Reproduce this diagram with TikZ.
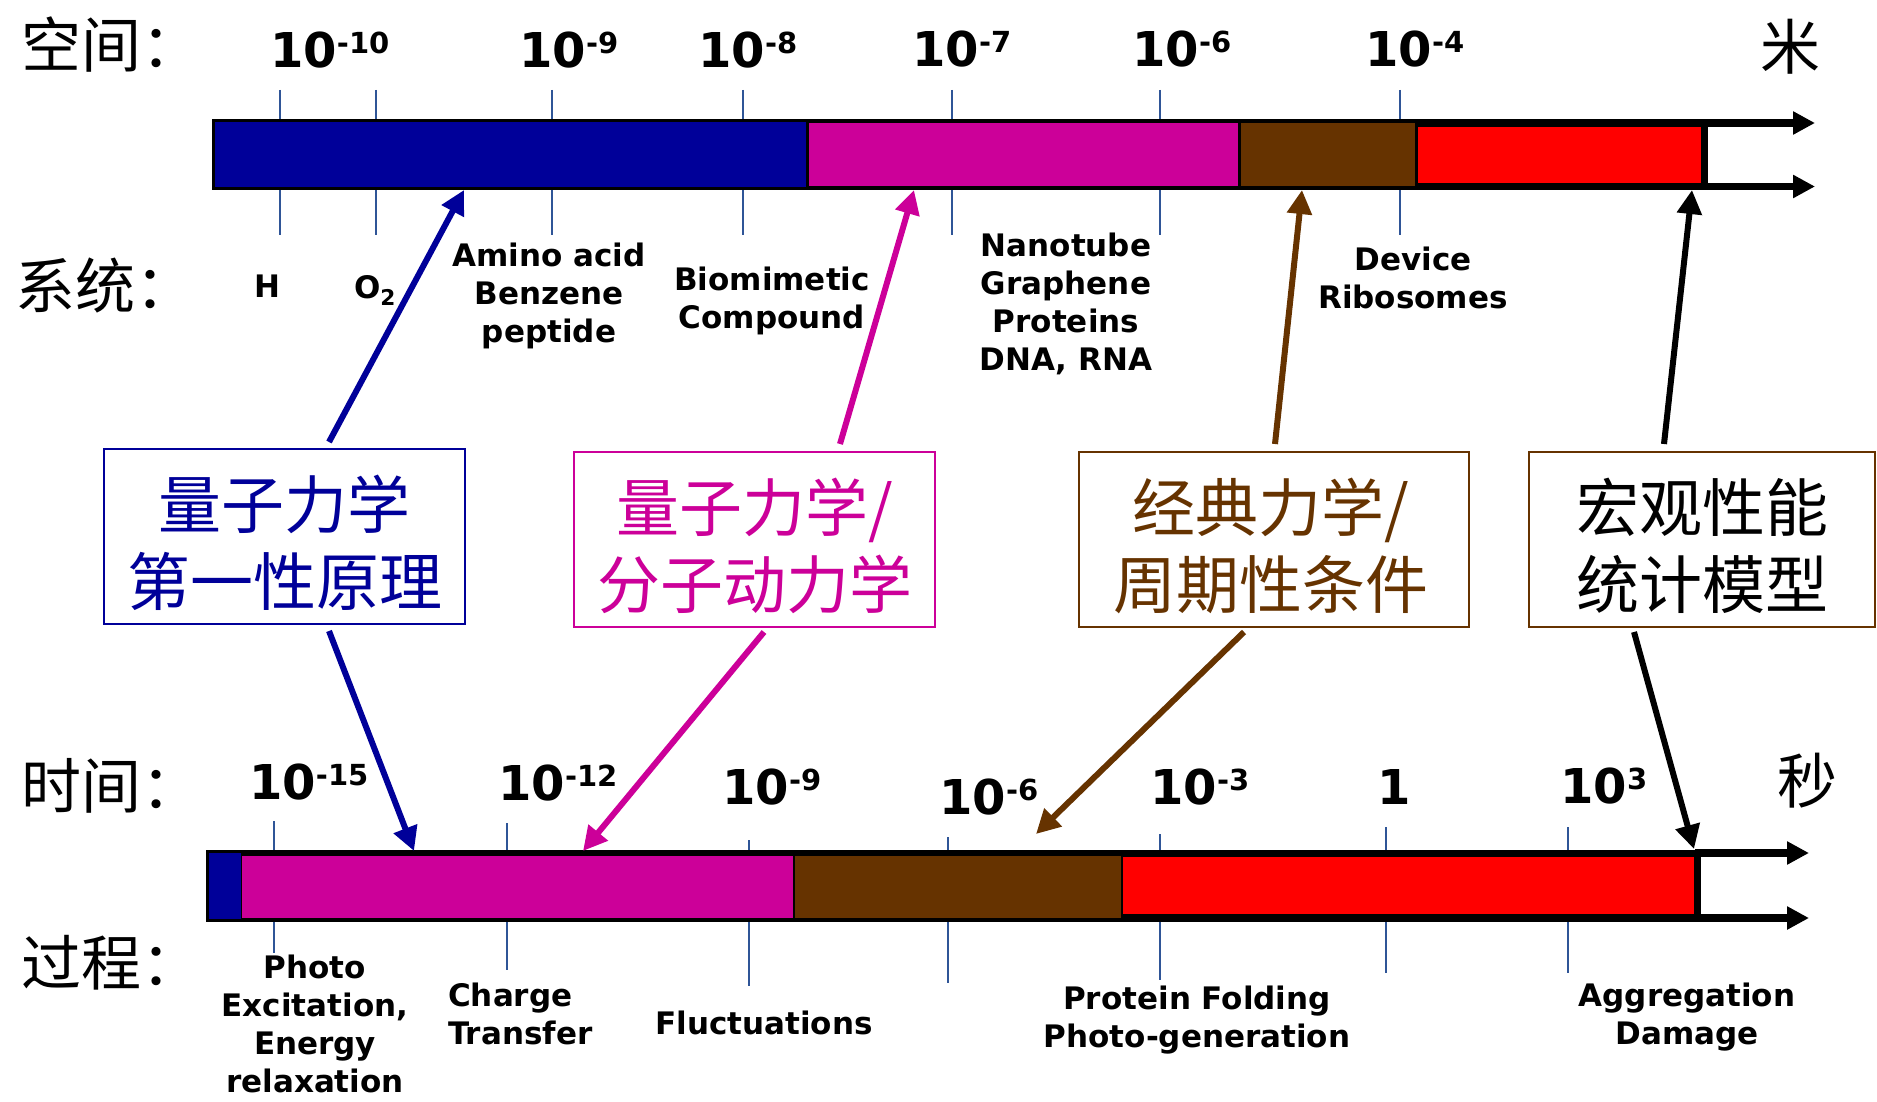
\documentclass[tikz,border=0pt]{standalone}
\usepackage{fontspec}
\setmainfont{DejaVu Sans}
\newfontfamily\cjk{Noto Sans CJK SC}
\usetikzlibrary{arrows.meta,calc}
\definecolor{qblue}{HTML}{000099}
\definecolor{qmag}{HTML}{CC0099}
\definecolor{qbrown}{HTML}{663300}
\definecolor{qred}{HTML}{FF0000}
\definecolor{tickc}{HTML}{2F5597}
\newcommand\pw[2]{#1\raisebox{14pt}{\fontsize{29}{29}\selectfont #2}}
\tikzset{
  tickline/.style={draw=tickc, line width=2pt},
  num/.style={font=\bfseries\fontsize{48}{48}\selectfont, anchor=base west, inner sep=0pt},
  lab/.style={font=\bfseries\fontsize{31}{38}\selectfont, align=center, inner sep=0pt, anchor=north},
  cjklab/.style={font=\cjk\fontsize{60}{60}\selectfont, inner sep=0pt},
  qbox/.style={draw, line width=2pt, minimum height=175pt, inner sep=0pt, fill=white},
  qtext/.style={font=\cjk\fontsize{63}{77}\selectfont, align=center, inner sep=0pt},
  conn/.style={line width=6pt, -{Triangle[length=24pt,width=24pt]}},
  axarrow/.style={line width=#1, -{Triangle[length=22pt,width=22pt]}},
}
\begin{document}
\begin{tikzpicture}[x=1pt,y=-1pt]
\useasboundingbox[fill=white] (0,0) rectangle (1877,1102);

% ---------- top scale (space) ----------
\foreach \x in {280,376,552,743,952,1160,1400}
  \draw[tickline] (\x,90) -- (\x,235);
\fill[black] (212,119) rectangle (1708,190);
\fill[qblue]  (215,122) rectangle (806,187);
\fill[qmag]   (809,123) rectangle (1238,186);
\fill[qbrown] (1241,123) rectangle (1415,186);
\fill[qred]   (1418,127) rectangle (1701,183);
\coordinate (ta1) at (1700,123);
\coordinate (ta2) at (1815,123);
\coordinate (tb1) at (1700,186.5);
\coordinate (tb2) at (1815,186.5);
\draw[axarrow=8pt] (ta1) -- (ta2);
\draw[axarrow=7pt] (tb1) -- (tb2);

\node[cjklab, anchor=west] (kj) at (21,45) {空间：};
\node[cjklab] (mi) at (1790,47) {米};
\node[num] (s10) at (270,68) {\pw{10}{-10}};
\node[num] (s9)  at (519,68) {\pw{10}{-9}};
\node[num] (s8)  at (698,68) {\pw{10}{-8}};
\node[num] (s7)  at (912,67) {\pw{10}{-7}};
\node[num] (s6)  at (1132,67) {\pw{10}{-6}};
\node[num] (s4)  at (1365,67) {\pw{10}{-4}};

\node[cjklab, anchor=west] (xt) at (15,285) {系统：};
\node[lab] (h) at (267,275) {H};
\node[lab] (o2) at (375,275) {O\textsubscript{2}};
\node[lab] (amino) at (549,243) {Amino acid\\Benzene\\peptide};
\node[lab] (bio) at (772,267) {Biomimetic\\Compound};
\node[lab] (nano) at (1066,233) {Nanotube\\Graphene\\Proteins\\DNA, RNA};
\node[lab] (dev) at (1413,247) {Device\\Ribosomes};

% ---------- method boxes ----------
\node[qbox, draw=qblue, minimum width=361pt] (b1) at (284.5,536.5) {};
\node[qbox, draw=qmag, minimum width=361pt] (b2) at (754.5,539.5) {};
\node[qbox, draw=qbrown, minimum width=390pt] (b3) at (1274,539.5) {};
\node[qbox, draw=qbrown, minimum width=346pt] (b4) at (1702,539.5) {};
\node[qtext, text=qblue]  (b1t) at ($(b1.center)+(0,6)$) {量子力学\\第一性原理};
\node[qtext, text=qmag]   (b2t) at ($(b2.center)+(0,6)$) {量子力学/\\分子动力学};
\node[qtext, text=qbrown] (b3t) at ($(b3.center)+(-3,6)$) {经典力学/\\周期性条件};
\node[qtext, text=black]  (b4t) at ($(b4.center)+(0,6)$) {宏观性能\\统计模型};

% ---------- bottom scale (time) ----------
\draw[tickline] (274,821) -- (274,953);
\draw[tickline] (507,823) -- (507,970);
\draw[tickline] (749,840) -- (749,986);
\draw[tickline] (948,837) -- (948,983);
\draw[tickline] (1160,834) -- (1160,980);
\draw[tickline] (1386,827) -- (1386,973);
\draw[tickline] (1568,827) -- (1568,973);
\fill[black] (206,850) rectangle (1701,922);
\fill[qblue]  (209,853) rectangle (241,919);
\fill[qmag]   (242,856) rectangle (793,918);
\fill[qbrown] (795,856) rectangle (1121,918);
\fill[qred]   (1123,857) rectangle (1694,914);
\coordinate (ba1) at (1695,853);
\coordinate (ba2) at (1809,853);
\coordinate (bb1) at (1695,918);
\coordinate (bb2) at (1809,918);
\draw[axarrow=8pt] (ba1) -- (ba2);
\draw[axarrow=8pt] (bb1) -- (bb2);

\node[cjklab, anchor=west] (sj) at (21,786) {时间：};
\node[cjklab, anchor=west] (gc) at (21,963) {过程：};
\node[cjklab] (miao) at (1807,781) {秒};
\node[num] (t15) at (249,799) {\pw{10}{-15}};
\node[num] (t12) at (498,800) {\pw{10}{-12}};
\node[num] (t9)  at (722,804) {\pw{10}{-9}};
\node[num] (t6)  at (939,814) {\pw{10}{-6}};
\node[num] (t3)  at (1150,804) {\pw{10}{-3}};
\node[num] (t0)  at (1377,804) {1};
\node[num] (tp3) at (1560,803) {\pw{10}{3}};

\node[lab] (photo) at (315,955) {Photo\\Excitation,\\Energy\\relaxation};
\node[lab, align=left, anchor=north west] (charge) at (448,983) {Charge\\Transfer};
\node[lab] (fluc) at (764,1011) {Fluctuations};
\node[lab] (prot) at (1197,986) {Protein Folding\\Photo-generation};
\node[lab] (aggr) at (1687,983) {Aggregation\\Damage};

% ---------- connectors ----------
\coordinate (up1) at (464,190);
\coordinate (up2) at (914,190);
\coordinate (up3) at (1302,190);
\coordinate (up4) at (1692,190);
\coordinate (dn1) at (414,851);
\coordinate (dn2) at (583,851);
\coordinate (dn3) at (1036,834);
\coordinate (dn4) at (1694,849);
\draw[conn, qblue]  ($(b1.north)+(44.5,-6)$) -- (up1);
\draw[conn, qmag]   ($(b2.north)+(85.5,-7)$) -- (up2);
\draw[conn, qbrown] ($(b3.north)+(1,-7)$) -- (up3);
\draw[conn, black]  ($(b4.north)+(-38,-7)$) -- (up4);
\draw[conn, qblue]  ($(b1.south)+(44.5,6)$) -- (dn1);
\draw[conn, qmag]   ($(b2.south)+(9.5,4)$) -- (dn2);
\draw[conn, qbrown] ($(b3.south)+(-30,4)$) -- (dn3);
\draw[conn, black]  ($(b4.south)+(-68,4)$) -- (dn4);
\end{tikzpicture}
\end{document}
